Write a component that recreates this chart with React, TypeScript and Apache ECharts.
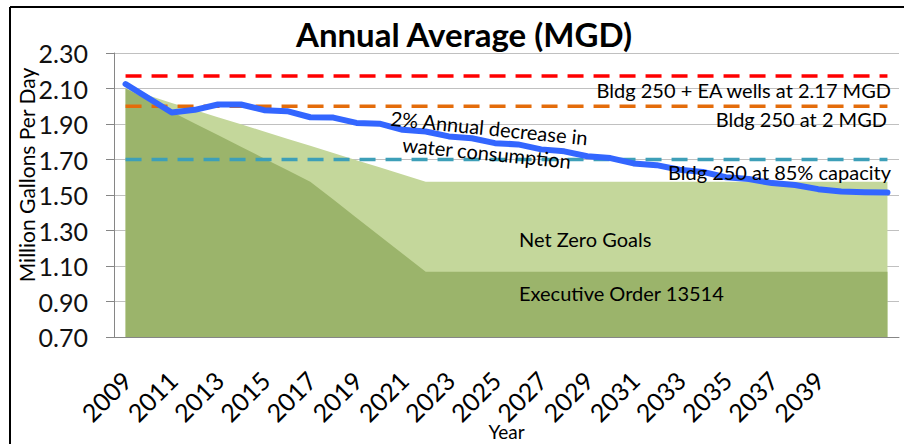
import React, { useEffect, useRef } from "react";
import * as echarts from "echarts";

const years = [
  "2009", "2010", "2011", "2012", "2013", "2014", "2015", "2016", "2017", "2018",
  "2019", "2020", "2021", "2022", "2023", "2024", "2025", "2026", "2027", "2028",
  "2029", "2030", "2031", "2032", "2033", "2034", "2035", "2036", "2037", "2038",
  "2039", "2040", "2041", "2042",
];

// 2% annual decrease in water consumption (blue line)
const consumption = [
  2.125, 2.045, 1.965, 1.98, 2.01, 2.01, 1.978, 1.972, 1.938, 1.936,
  1.906, 1.902, 1.867, 1.858, 1.83, 1.82, 1.792, 1.785, 1.757, 1.746,
  1.718, 1.708, 1.678, 1.668, 1.642, 1.63, 1.6, 1.59, 1.567, 1.556,
  1.533, 1.52, 1.516, 1.514,
];

// Net Zero Goals (light green area)
const netZeroGoals = [
  2.1, 2.06, 2.019, 1.979, 1.938, 1.898, 1.858, 1.817, 1.777, 1.737,
  1.696, 1.656, 1.615, 1.575, 1.575, 1.575, 1.575, 1.575, 1.575, 1.575,
  1.575, 1.575, 1.575, 1.575, 1.575, 1.575, 1.575, 1.575, 1.575, 1.575,
  1.575, 1.575, 1.575, 1.575,
];

// Executive Order 13514 (dark green area)
const executiveOrder = [
  2.1, 2.034, 1.969, 1.903, 1.838, 1.772, 1.706, 1.641, 1.575, 1.474,
  1.372, 1.271, 1.169, 1.068, 1.068, 1.068, 1.068, 1.068, 1.068, 1.068,
  1.068, 1.068, 1.068, 1.068, 1.068, 1.068, 1.068, 1.068, 1.068, 1.068,
  1.068, 1.068, 1.068, 1.068,
];

const capacityLevels = [2.17, 2.0, 1.7];
const capacityNames = [
  "Bldg 250 + EA wells at 2.17 MGD",
  "Bldg 250 at 2 MGD",
  "Bldg 250 at 85% capacity",
];
const capacityColors = ["#ff0000", "#e46c0a", "#3d9fb8"];

const yMin = 0.7;
const yMax = 2.3;
const yStep = 0.2;

const FONT = "Lato, 'Noto Sans', sans-serif";

export default function App() {
  const ref = useRef<HTMLDivElement>(null);

  useEffect(() => {
    if (!ref.current) return;
    const chart = echarts.init(ref.current, undefined, { renderer: "svg" });

    const first = years[0];
    const last = years[years.length - 1];

    const refSeries = capacityLevels.map((v, i) => ({
      type: "line",
      name: capacityNames[i],
      data: [
        [first, v],
        [last, v],
      ],
      symbol: "none",
      z: 3,
      lineStyle: { color: capacityColors[i], width: 3.5, type: [16, 10] },
      silent: true,
    }));

    const txt = (
      text: string,
      x: number,
      y: number,
      size: number,
      align: string,
      extra: any = {}
    ) => ({
      type: "text",
      x,
      y,
      z: 100,
      rotation: extra.rotation || 0,
      style: {
        text,
        fontSize: size,
        fontFamily: FONT,
        fontWeight: extra.bold ? "bold" : "normal",
        fill: "#000",
        align,
        textAlign: align,
        verticalAlign: "middle",
        textVerticalAlign: "middle",
        lineHeight: extra.lineHeight,
      },
    });

    chart.setOption({
      animation: false,
      backgroundColor: "#fff",
      grid: {
        left: 114,
        right: 5,
        top: 53,
        bottom: 107,
        containLabel: false,
        outerBoundsMode: "none",
      },
      xAxis: {
        type: "category",
        data: years,
        boundaryGap: true,
        name: "Year",
        nameLocation: "middle",
        nameGap: 84,
        nameMoveOverlap: false,
        nameTextStyle: { fontFamily: FONT, fontSize: 19, lineHeight: 20, color: "#000" },
        axisLine: { lineStyle: { color: "#868686", width: 1 } },
        axisTick: { interval: 0, length: 8, lineStyle: { color: "#868686" } },
        axisLabel: {
          interval: (index: number) => index % 2 === 0 && index <= 30,
          rotate: 45,
          align: "right",
          verticalAlign: "top",
          margin: 22,
          padding: [0, 11, 0, 0],
          fontFamily: FONT,
          fontSize: 25,
          color: "#000",
        },
        splitLine: { show: false },
      },
      yAxis: {
        type: "value",
        min: yMin,
        max: yMax,
        interval: yStep,
        axisLine: { show: true, lineStyle: { color: "#868686", width: 1 } },
        axisTick: { show: true, length: 8, lineStyle: { color: "#868686" } },
        axisLabel: {
          margin: 26,
          fontFamily: FONT,
          fontSize: 25,
          color: "#111",
          formatter: (v: number) => v.toFixed(2),
        },
        splitLine: { show: true, lineStyle: { color: "#c0c0c0", width: 1 } },
      },
      series: [
        {
          type: "line",
          name: "Net Zero Goals",
          data: netZeroGoals,
          symbol: "none",
          z: 1,
          lineStyle: { width: 0 },
          areaStyle: { color: "#c4d79b", opacity: 1, origin: "start" },
          silent: true,
        },
        {
          type: "line",
          name: "Executive Order 13514",
          data: executiveOrder,
          symbol: "none",
          z: 2,
          lineStyle: { width: 0 },
          areaStyle: { color: "#9bb46b", opacity: 1, origin: "start" },
          silent: true,
        },
        ...refSeries,
        {
          type: "line",
          name: "2% Annual decrease in water consumption",
          data: consumption,
          symbol: "none",
          z: 5,
          lineStyle: { color: "#3366ff", width: 6, cap: "round", join: "round" },
          silent: true,
        },
      ],
      graphic: [
        { type: "line", shape: { x1: 10, y1: 7, x2: 904, y2: 7 }, style: { stroke: "#000", lineWidth: 2 }, z: 100 },
        { type: "line", shape: { x1: 10, y1: 7, x2: 10, y2: 444 }, style: { stroke: "#000", lineWidth: 2 }, z: 100 },
        txt("Annual Average (MGD)", 464, 34, 33, "center", { bold: true }),
        txt("Million Gallons Per Day", 26, 175, 21, "center", { rotation: Math.PI / 2 }),
        txt(capacityNames[0], 891, 90, 20, "right"),
        txt(capacityNames[1], 887, 119, 20, "right"),
        txt(capacityNames[2], 891, 172, 20, "right"),
        txt("2% Annual decrease in\nwater consumption", 488, 140, 20, "center", {
          rotation: -0.1,
          lineHeight: 25,
        }),
        txt("Net Zero Goals", 519, 239, 20, "left"),
        txt("Executive Order 13514", 519, 293, 20, "left"),
      ],
    });

    return () => chart.dispose();
  }, []);

  return (
    <div
      ref={ref}
      style={{ position: "fixed", left: 0, top: 0, width: 904, height: 444 }}
    />
  );
}
